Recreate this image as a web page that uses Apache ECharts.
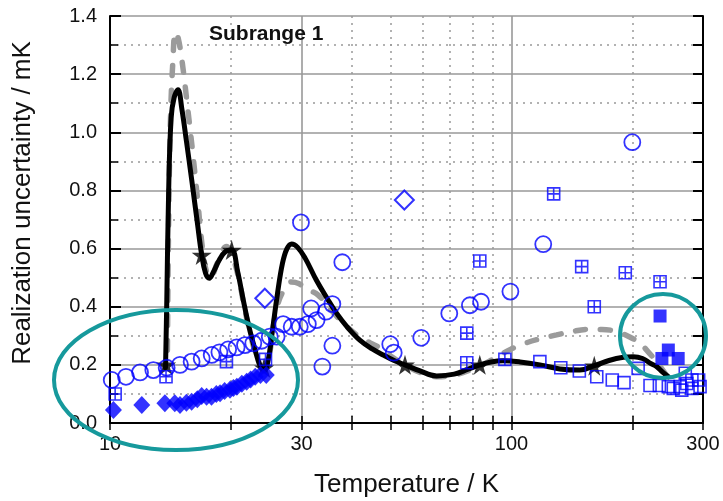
<!DOCTYPE html>
<html><head><meta charset="utf-8">
<script src="https://cdn.jsdelivr.net/npm/echarts@6/dist/echarts.min.js"></script>
<style>html,body{margin:0;padding:0;background:#fff}#c{width:723px;height:501px}</style>
</head><body><div id="c"></div>
<script>
// ---- axis ticks ----
const xTickLabels = [10, 30, 100, 300];
const xMajorGrid = [30, 100];
const xMinorGrid = [20, 40, 50, 60, 70, 80, 90, 200];
const xAllTicks = [10, 20, 30, 40, 50, 60, 70, 80, 90, 100, 200, 300];

// ---- black solid curve ----
const blackT = [13.75, 13.85, 14.0, 14.2, 14.45, 14.77, 15.1, 15.5, 16.0, 16.5, 16.92, 17.3, 17.67, 18.1, 18.7, 19.4, 20.1, 20.8, 21.5, 22.2, 23.0, 23.6, 24.2, 24.8, 25.4, 26.1, 26.9, 27.6, 28.35, 29.3, 30.6, 32.7, 34.7, 36.7, 39, 41.9, 45, 47.9, 51, 54.3, 59, 65.1, 72, 78, 83.4, 89, 95.2, 105, 117.7, 132, 148, 160.8, 175, 190, 201, 212, 222, 230, 238, 246];
const blackV = [0.19, 0.42, 0.80, 1.05, 1.12, 1.146, 1.08, 0.97, 0.83, 0.69, 0.578, 0.515, 0.498, 0.52, 0.56, 0.59, 0.595, 0.52, 0.42, 0.33, 0.25, 0.20, 0.18, 0.22, 0.32, 0.44, 0.55, 0.60, 0.616, 0.605, 0.568, 0.49, 0.43, 0.377, 0.33, 0.285, 0.255, 0.234, 0.215, 0.2, 0.18, 0.162, 0.168, 0.185, 0.2, 0.21, 0.214, 0.21, 0.2, 0.186, 0.182, 0.197, 0.215, 0.226, 0.228, 0.222, 0.205, 0.194, 0.175, 0.159];

// ---- grey dashed curve ----
const greyT = [13.9, 14.0, 14.15, 14.35, 14.55, 14.75, 15.1, 15.65, 16.1, 16.6, 17.0, 17.4, 17.8, 18.5, 19.5, 20.2, 20.9, 21.6, 22.4, 23.2, 24.0, 24.8, 25.5, 26.2, 27.2, 28.3, 29.5, 31, 33, 36, 39, 42.5, 46.5, 50, 54.3, 59, 65.7, 72, 78.8, 86, 93.6, 100, 108, 118, 129.5, 141, 154, 168, 183, 197, 209, 219, 228, 236, 243];
const greyV = [0.25, 0.7, 1.05, 1.25, 1.345, 1.33, 1.25, 1.07, 0.92, 0.74, 0.60, 0.52, 0.50, 0.55, 0.607, 0.57, 0.50, 0.40, 0.30, 0.23, 0.19, 0.22, 0.33, 0.41, 0.46, 0.485, 0.48, 0.46, 0.44, 0.38, 0.33, 0.29, 0.262, 0.23, 0.2, 0.175, 0.159, 0.165, 0.182, 0.205, 0.234, 0.255, 0.274, 0.29, 0.303, 0.314, 0.322, 0.322, 0.314, 0.296, 0.274, 0.245, 0.217, 0.19, 0.165];

// ---- stars on the black curve ----
const starT = [13.8, 16.92, 20.1, 24.2, 54.3, 83.4, 160.8];
const starV = [0.2, 0.578, 0.595, 0.19, 0.2, 0.2, 0.197];

// ---- open circles ----
const circleT = [10.1, 10.96, 11.88, 12.82, 13.84, 14.94, 15.97, 16.92, 17.92, 18.73, 19.69, 20.67, 21.69, 22.75, 23.86, 25.0, 26.0, 27.0, 28.35, 29.7, 31.1, 32.7, 34.5, 31.7, 35.8, 37.9, 35.8, 33.8, 29.9, 49.9, 50.9, 59.6, 70.0, 78.8, 84.0, 99.4, 120, 200];
const circleV = [0.148, 0.159, 0.174, 0.182, 0.19, 0.2, 0.211, 0.222, 0.234, 0.243, 0.253, 0.26, 0.268, 0.274, 0.283, 0.297, 0.297, 0.34, 0.331, 0.331, 0.34, 0.354, 0.383, 0.394, 0.409, 0.553, 0.266, 0.194, 0.69, 0.271, 0.242, 0.293, 0.377, 0.405, 0.417, 0.452, 0.615, 0.966];

// ---- crossed squares ----
const xsqT = [10.3, 13.79, 19.5, 24.4, 77.4, 77.4, 83.4, 96.3, 127.4, 149.6, 160.8, 192.1, 234.5];
const xsqV = [0.1, 0.159, 0.211, 0.219, 0.309, 0.207, 0.557, 0.219, 0.788, 0.538, 0.4, 0.517, 0.486];

// ---- open squares ----
const osqT = [117.7, 132.7, 147.6, 163.1, 178.3, 190.7, 206.8, 221.4, 233.6, 245.9, 253, 263, 265.6, 271, 273.4, 281.5, 281.5, 292.6, 295];
const osqV = [0.211, 0.19, 0.179, 0.159, 0.148, 0.139, 0.188, 0.129, 0.129, 0.125, 0.119, 0.125, 0.113, 0.171, 0.136, 0.119, 0.148, 0.148, 0.125];

// ---- filled squares ----
const fsqT = [234.5, 245.9, 237, 260.2];
const fsqV = [0.368, 0.251, 0.222, 0.222];

// ---- filled diamonds ----
const fdiaT = [10.2, 12.0, 13.7, 14.5, 14.94, 15.5, 15.97, 16.5, 16.92, 17.4, 17.9, 18.4, 18.8, 19.3, 19.9, 20.3, 20.7, 21.3, 21.9, 22.4, 23.0, 23.7, 24.5];
const fdiaV = [0.045, 0.062, 0.068, 0.068, 0.062, 0.07, 0.073, 0.082, 0.093, 0.09, 0.09, 0.1, 0.102, 0.11, 0.114, 0.12, 0.125, 0.135, 0.142, 0.15, 0.159, 0.165, 0.165];

// ---- open diamonds ----
const odiaT = [24.3, 54.1];
const odiaV = [0.429, 0.767];

const pairs = (a, b) => a.map((t, i) => [t, b[i]]);
const BLUE = '#0000ff';
const FONT = '"Liberation Sans", Arial, sans-serif';
const STAR = 'path://M50,0 L61,35 L98,35 L68,57 L79,91 L50,70 L21,91 L32,57 L2,35 L39,35 Z';
const XSQ = 'path://M0,0 H10 V10 H0 Z M5,0 V10 M0,5 H10';

function logAxis(extra) {
  return Object.assign({
    type: 'log', logBase: 10, min: 10, max: 300, gridIndex: 0,
    axisLine: { show: false }, axisTick: { show: false }, axisLabel: { show: false },
    splitLine: { show: false }, minorTick: { show: false }, minorSplitLine: { show: false }
  }, extra);
}

const chart = echarts.init(document.getElementById('c'), null, { renderer: 'canvas' });
chart.setOption({
  backgroundColor: '#fff',
  animation: false,
  grid: { left: 110, right: 20, top: 16, bottom: 78, containLabel: false, outerBoundsMode: 'none' },
  xAxis: [
    logAxis({
      position: 'bottom',
      axisLine: { show: true, lineStyle: { color: '#000', width: 2 } },
      axisTick: { show: true, inside: true, length: 7, customValues: xAllTicks, lineStyle: { color: '#000', width: 1.5 } },
      axisLabel: { show: true, customValues: xTickLabels, margin: 11, fontSize: 20, color: '#111', fontFamily: FONT },
      name: 'Temperature / K', nameLocation: 'middle', nameGap: 49,
      nameTextStyle: { fontSize: 26, color: '#111', fontFamily: FONT }
    }),
    logAxis({
      position: 'top',
      axisLine: { show: true, lineStyle: { color: '#000', width: 2 } },
      axisTick: { show: true, inside: true, length: 7, customValues: xAllTicks, lineStyle: { color: '#000', width: 1.5 } }
    }),
    logAxis({
      position: 'bottom',
      axisTick: { show: false, customValues: xMajorGrid },
      splitLine: { show: true, lineStyle: { color: '#999', width: 1.6 } }
    }),
    logAxis({
      position: 'bottom',
      axisTick: { show: false, customValues: xMinorGrid },
      splitLine: { show: true, lineStyle: { color: '#999', width: 1.5, type: [2, 5] } }
    })
  ],
  yAxis: [
    {
      type: 'value', min: 0, max: 1.4, interval: 0.2, position: 'left',
      axisLine: { show: true, lineStyle: { color: '#000', width: 2 } },
      axisTick: { show: true, inside: true, length: 11, lineStyle: { color: '#000', width: 2 } },
      minorTick: { show: true, splitNumber: 2, length: 8, lineStyle: { color: '#000', width: 1.5 } },
      axisLabel: { margin: 13, fontSize: 20, color: '#111', fontFamily: FONT, formatter: v => v.toFixed(1) },
      splitLine: { show: true, lineStyle: { color: '#999', width: 1.6 } },
      minorSplitLine: { show: true, lineStyle: { color: '#999', width: 1.5, type: [2, 5] } }
    },
    {
      type: 'value', min: 0, max: 1.4, interval: 0.1, position: 'right',
      axisLine: { show: true, lineStyle: { color: '#000', width: 2 } },
      axisTick: { show: true, inside: true, length: 10, lineStyle: { color: '#000', width: 2 } },
      axisLabel: { show: false }, splitLine: { show: false }
    }
  ],
  series: [
    { type: 'line', name: 'grey', data: pairs(greyT, greyV), smooth: 0.4, showSymbol: false, z: 2,
      lineStyle: { color: '#9b9b9b', width: 5.5, type: [10, 15], cap: 'round' } },
    { type: 'line', name: 'black', data: pairs(blackT, blackV), smooth: 0.4, showSymbol: false, z: 3,
      lineStyle: { color: '#000', width: 5, cap: 'round', join: 'round' } },
    { type: 'scatter', name: 'stars', data: pairs(starT, starV), symbol: STAR, symbolSize: 20, z: 4,
      itemStyle: { color: '#000' } },
    { type: 'scatter', name: 'circles', data: pairs(circleT, circleV), symbol: 'circle', symbolSize: 16, z: 5,
      itemStyle: { color: 'rgba(0,0,0,0)', borderColor: BLUE, borderWidth: 1.8 } },
    { type: 'scatter', name: 'xsq', data: pairs(xsqT, xsqV), symbol: XSQ, symbolSize: 12, z: 5,
      itemStyle: { color: 'rgba(0,0,0,0)', borderColor: BLUE, borderWidth: 1.6 } },
    { type: 'scatter', name: 'osq', data: pairs(osqT, osqV), symbol: 'rect', symbolSize: 12, z: 5,
      itemStyle: { color: 'rgba(0,0,0,0)', borderColor: BLUE, borderWidth: 1.6 } },
    { type: 'scatter', name: 'fsq', data: pairs(fsqT, fsqV), symbol: 'rect', symbolSize: 13, z: 5,
      itemStyle: { color: BLUE } },
    { type: 'scatter', name: 'fdia', data: pairs(fdiaT, fdiaV), symbol: 'diamond', symbolSize: [17, 18], z: 5,
      itemStyle: { color: BLUE } },
    { type: 'scatter', name: 'odia', data: pairs(odiaT, odiaV), symbol: 'diamond', symbolSize: [19, 19], z: 5,
      itemStyle: { color: 'rgba(0,0,0,0)', borderColor: BLUE, borderWidth: 2 } }
  ],
  graphic: [
    { type: 'text', x: 209, y: 34, z: 10,
      style: { text: 'Subrange 1', font: 'bold 21px ' + FONT, fill: '#111', align: 'left', verticalAlign: 'middle' } },
    { type: 'text', x: 23, y: 203, rotation: Math.PI / 2, z: 10,
      style: { text: 'Realization uncertainty / mK', font: '26px ' + FONT, fill: '#111', align: 'center', verticalAlign: 'middle' } },
    { type: 'ellipse', z: 20, shape: { cx: 176, cy: 380, rx: 122, ry: 70 },
      style: { fill: 'none', stroke: '#16999c', lineWidth: 4 } },
    { type: 'ellipse', z: 20, shape: { cx: 663, cy: 336, rx: 43, ry: 42 },
      style: { fill: 'none', stroke: '#16999c', lineWidth: 4 } }
  ]
});
</script>
</body></html>
